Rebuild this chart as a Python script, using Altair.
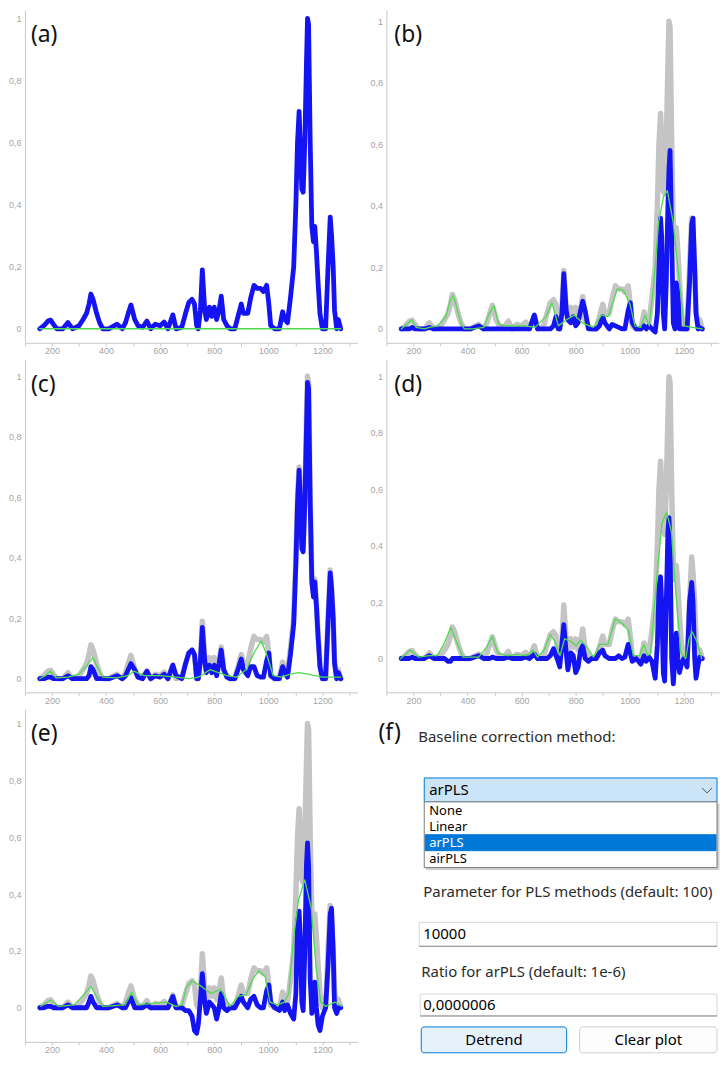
import altair as alt
import pandas as pd

# ---------------- data ----------------
X = [155, 170, 185, 195, 205, 218, 240, 259, 276, 300,
     315, 328, 337, 344, 352, 365, 376, 388, 410, 441,
     460, 472, 482, 492, 506, 518, 535, 551, 565, 582,
     600, 615, 629, 647, 659, 680, 694, 706, 718, 727,
     735, 741, 749, 756, 765, 771, 782, 791, 800, 809,
     818, 826, 835, 847, 859, 876, 888, 900, 908, 924,
     935, 947, 959, 971, 982, 994, 1002, 1009, 1024, 1041,
     1053, 1061, 1071, 1082, 1094, 1102, 1108, 1114, 1118, 1124,
     1129, 1135, 1141, 1145, 1149, 1155, 1161, 1167, 1172, 1178,
     1184, 1191, 1200, 1212, 1221, 1229, 1234, 1240, 1245, 1253,
     1259, 1268]

RAW = [0.0, 0.01, 0.025, 0.028, 0.015, 0.0, 0.0, 0.02, 0.0, 0.01,
       0.03, 0.05, 0.08, 0.112, 0.095, 0.05, 0.02, 0.0, 0.0, 0.015,
       0.0, 0.02, 0.05, 0.077, 0.03, 0.01, 0.005, 0.025, 0.0, 0.015,
       0.01, 0.022, 0.0, 0.045, 0.0, 0.005, 0.05, 0.085, 0.095, 0.08,
       0.01, 0.0, 0.06, 0.19, 0.06, 0.03, 0.07, 0.04, 0.07, 0.03,
       0.06, 0.105, 0.03, 0.01, 0.0, 0.0, 0.04, 0.08, 0.05, 0.05,
       0.1, 0.14, 0.13, 0.13, 0.12, 0.14, 0.08, 0.01, 0.0, 0.0,
       0.055, 0.03, 0.02, 0.1, 0.2, 0.4, 0.6, 0.7, 0.6, 0.45,
       0.44, 0.6, 0.85, 1.0, 0.98, 0.6, 0.33, 0.28, 0.33, 0.25,
       0.15, 0.05, 0.0, 0.0, 0.2, 0.36, 0.3, 0.2, 0.06, 0.0,
       0.03, 0.0]

CORR_B = [0.0, 0.0, 0.0, 0.005, 0.0, 0.0, 0.0, 0.005, 0.0, 0.0,
          0.0, 0.0, 0.0, 0.0, 0.0, 0.0, 0.0, 0.0, 0.0, 0.01,
          0.0, 0.0, 0.0, 0.0, 0.0, 0.0, 0.0, 0.0, 0.0, 0.0,
          0.0, 0.0, 0.0, 0.045, 0.0, 0.0, 0.0, 0.0, 0.01, 0.04,
          0.0, 0.0, 0.05, 0.18, 0.06, 0.03, 0.02, 0.04, 0.01, 0.02,
          0.06, 0.09, 0.06, 0.0, 0.0, 0.0, 0.01, 0.04, 0.02, 0.0,
          0.015, 0.01, 0.005, 0.0, 0.0, 0.06, 0.085, 0.02, 0.0, 0.0,
          0.01, 0.0, 0.01, 0.0, -0.01, 0.05, 0.2, 0.36, 0.3, 0.05,
          0.0, 0.15, 0.4, 0.52, 0.58, 0.3, 0.02, 0.0, 0.15, 0.12,
          0.0, 0.0, 0.0, 0.0, 0.15, 0.34, 0.36, 0.2, 0.05, 0.0,
          0.005, 0.0]

CORR_C = [0.0, 0.0, 0.005, 0.005, 0.0, 0.0, 0.0, 0.01, 0.0, 0.0,
          0.0, 0.0, 0.01, 0.04, 0.03, 0.0, 0.0, 0.0, 0.0, 0.01,
          0.0, 0.01, 0.03, 0.05, 0.03, 0.005, 0.0, 0.025, 0.0, 0.01,
          0.005, 0.015, 0.0, 0.045, 0.01, 0.0, 0.05, 0.085, 0.095, 0.08,
          0.0, 0.0, 0.06, 0.17, 0.06, 0.02, 0.045, 0.02, 0.045, 0.01,
          0.05, 0.095, 0.03, 0.005, 0.0, 0.0, 0.03, 0.065, 0.03, 0.01,
          0.04, 0.04, 0.01, 0.005, 0.005, 0.06, 0.085, 0.01, 0.0, 0.0,
          0.04, 0.02, 0.005, 0.08, 0.18, 0.38, 0.58, 0.69, 0.6, 0.43,
          0.42, 0.58, 0.82, 0.98, 0.96, 0.58, 0.32, 0.27, 0.32, 0.24,
          0.14, 0.04, 0.0, 0.0, 0.19, 0.35, 0.3, 0.2, 0.05, 0.0,
          0.02, 0.0]

CORR_D = [0.0, 0.0, 0.0, 0.005, 0.0, 0.0, 0.0, 0.01, 0.0, 0.0,
          0.0, -0.01, -0.01, 0.0, 0.0, 0.0, 0.0, 0.0, 0.0, 0.01,
          0.0, 0.0, 0.0, 0.005, 0.0, 0.0, 0.0, 0.005, 0.0, 0.0,
          0.0, 0.005, 0.0, 0.015, 0.0, 0.0, 0.0, 0.01, 0.035, 0.01,
          -0.01, -0.03, 0.05, 0.12, 0.02, -0.04, 0.02, 0.01, -0.05, -0.03,
          0.03, 0.045, 0.0, -0.01, 0.0, 0.0, 0.02, 0.03, 0.01, 0.0,
          0.0, 0.0, 0.01, 0.0, 0.005, 0.05, 0.02, -0.01, 0.0, -0.02,
          0.01, -0.01, 0.005, -0.01, -0.07, 0.05, 0.25, 0.29, 0.2, -0.05,
          -0.08, 0.2, 0.45, 0.5, 0.4, 0.0, -0.09, 0.0, 0.09, 0.0,
          -0.05, -0.02, 0.0, -0.03, 0.2, 0.27, 0.2, 0.0, -0.07, -0.02,
          0.005, 0.0]

CORR_E = [0.0, 0.0, 0.005, 0.005, 0.0, 0.0, 0.0, 0.01, 0.0, 0.0,
          0.0, 0.0, 0.02, 0.04, 0.02, 0.0, 0.0, 0.0, 0.0, 0.01,
          0.0, 0.0, 0.02, 0.035, 0.0, 0.0, 0.0, 0.01, 0.0, 0.0,
          0.0, 0.0, 0.0, 0.04, 0.0, 0.0, -0.01, -0.01, -0.03, -0.08,
          -0.09, -0.06, 0.03, 0.12, 0.02, -0.02, 0.02, 0.01, 0.0, -0.04,
          0.0, 0.05, 0.0, -0.01, 0.0, 0.0, 0.02, 0.04, 0.02, 0.0,
          0.03, 0.04, 0.01, 0.0, 0.0, 0.06, 0.08, 0.02, 0.0, -0.01,
          0.02, -0.01, 0.01, -0.02, -0.04, 0.05, 0.3, 0.34, 0.25, 0.02,
          -0.01, 0.2, 0.5, 0.58, 0.5, 0.1, -0.02, 0.0, 0.09, 0.0,
          -0.06, -0.08, -0.03, 0.0, 0.15, 0.33, 0.35, 0.2, 0.0, -0.02,
          0.0, 0.0]

GA_X = [155, 1268]
GA_Y = [0.0, 0.0]

GB_X = [155, 175, 194, 210, 240, 259, 290, 320, 335, 347,
        360, 375, 388, 420, 460, 480, 498, 515, 540, 580,
        615, 650, 690, 712, 736, 766, 795, 825, 865, 895,
        920, 954, 977, 1001, 1019, 1040, 1056, 1072, 1089, 1107,
        1125, 1139, 1160, 1178, 1201, 1230, 1268]
GB_Y = [0.0, 0.015, 0.03, 0.005, 0.0, 0.005, 0.01, 0.04, 0.09, 0.11,
        0.07, 0.02, 0.0, 0.0, 0.005, 0.05, 0.075, 0.015, 0.01, 0.01,
        0.01, 0.005, 0.04, 0.085, 0.01, 0.03, 0.045, 0.02, 0.005, 0.045,
        0.04, 0.13, 0.125, 0.08, 0.01, 0.005, 0.045, 0.01, 0.15, 0.35,
        0.43, 0.45, 0.35, 0.2, 0.01, 0.005, 0.0]

GC_X = [155, 175, 194, 215, 260, 300, 330, 351, 370, 388,
        440, 480, 503, 541, 600, 659, 706, 741, 785, 847,
        882, 918, 950, 974, 994, 1018, 1047, 1082, 1112, 1147,
        1200, 1268]
GC_Y = [0.0, 0.01, 0.025, 0.003, 0.005, 0.015, 0.045, 0.07, 0.035, 0.005,
        0.003, 0.01, 0.025, 0.01, 0.01, 0.005, 0.0, 0.005, 0.03, 0.01,
        0.005, 0.03, 0.09, 0.125, 0.08, 0.01, 0.005, 0.015, 0.02, 0.015,
        0.005, 0.005]

GD_X = [153, 188, 218, 259, 288, 312, 338, 359, 383, 441,
        471, 491, 512, 547, 583, 618, 642, 659, 683, 706,
        724, 742, 759, 783, 801, 818, 842, 866, 889, 919,
        946, 972, 995, 1013, 1036, 1052, 1066, 1077, 1101, 1119,
        1136, 1154, 1169, 1189, 1207, 1219, 1231, 1248, 1266]
GD_Y = [0.0, 0.03, 0.005, 0.01, 0.01, 0.05, 0.11, 0.06, 0.005, 0.005,
        0.04, 0.078, 0.02, 0.01, 0.015, 0.01, 0.03, 0.005, 0.03, 0.085,
        0.06, 0.01, 0.07, 0.06, 0.045, 0.065, 0.04, 0.005, 0.05, 0.05,
        0.14, 0.125, 0.1, 0.01, 0.01, 0.05, 0.01, 0.02, 0.3, 0.48,
        0.52, 0.45, 0.25, 0.02, 0.0, 0.07, 0.095, 0.06, 0.0]

GE_X = [159, 194, 224, 282, 312, 344, 371, 388, 471, 494,
        518, 576, 624, 659, 682, 696, 718, 753, 788, 824,
        859, 888, 918, 941, 965, 988, 1006, 1035, 1059, 1076,
        1094, 1112, 1135, 1159, 1176, 1194, 1212, 1247, 1271]
GE_Y = [0.005, 0.027, 0.005, 0.01, 0.04, 0.075, 0.03, 0.005, 0.01, 0.055,
        0.01, 0.015, 0.02, 0.005, 0.01, 0.07, 0.095, 0.075, 0.05, 0.065,
        0.005, 0.04, 0.045, 0.1, 0.13, 0.11, 0.02, 0.01, 0.02, 0.05,
        0.25, 0.38, 0.45, 0.35, 0.15, 0.02, 0.005, 0.02, 0.005]

X_TICKS = list(range(100, 1400, 100))
Y_TICKS = [0, 0.2, 0.4, 0.6, 0.8, 1]
PANEL_TAGS = ["(a)", "(b)", "(c)", "(d)", "(e)", "(f)"]
METHODS = ["None", "Linear", "arPLS", "airPLS"]
SELECTED = "arPLS"
UI_TEXT = {
    "title": "Baseline correction method:",
    "param": "Parameter for PLS methods (default: 100)",
    "param_val": "10000",
    "ratio": "Ratio for arPLS (default: 1e-6)",
    "ratio_val": "0,0000006",
    "btn1": "Detrend",
    "btn2": "Clear plot",
}

# ---------------- styling ----------------
W, H = 334, 334
XDOM = [100, 1330]
BLUE = "#1414f2"
GREY = "#c4c4c4"
GREEN = "#4ddc4d"
AXC = "#c8c8c8"
LABC = "#a4a4a4"
TXT = "#2a2a2a"
UIFONT = "Noto Sans"


def xenc():
    return alt.X("x:Q", scale=alt.Scale(domain=XDOM, nice=False, zero=False),
                 axis=alt.Axis(values=X_TICKS, format="d",
                               labelExpr="datum.value % 200 == 0 && datum.value <= 1200 ? datum.label : ''",
                               tickSize=3, tickColor=AXC, domainColor=AXC,
                               labelColor=LABC, labelFont="Liberation Sans",
                               labelFontSize=9, labelPadding=1, labelFlush=False,
                               grid=False, title=None, minExtent=13, maxExtent=13))


def yenc(dom):
    return alt.Y("y:Q", scale=alt.Scale(domain=dom, nice=False, zero=False),
                 axis=alt.Axis(values=Y_TICKS,
                               labelExpr="replace(format(datum.value, '.1~f'), '.', ',')",
                               ticks=False, domainColor=AXC, labelColor=LABC,
                               labelFont="Liberation Sans", labelFontSize=9,
                               labelPadding=4, grid=False, title=None,
                               minExtent=14, maxExtent=14))


def line(xs, ys, color, sw, dom):
    df = pd.DataFrame({"x": xs, "y": ys})
    return alt.Chart(df).mark_line(color=color, strokeWidth=sw, strokeJoin="round",
                                   strokeCap="round").encode(x=xenc(), y=yenc(dom))


def tag(t, dx):
    return alt.Chart(pd.DataFrame({"t": [t]})).mark_text(
        align="left", baseline="middle", fontSize=23, font=UIFONT, color="#111"
    ).encode(text="t:N", x=alt.value(dx), y=alt.value(25))


def panel(t, dx, dom, raw, corr, gx, gy, gw=1.3):
    layers = []
    if raw is not None:
        layers.append(line(X, raw, GREY, 5.5, dom))
    layers.append(line(X, corr, BLUE, 4.8, dom))
    layers.append(line(gx, gy, GREEN, gw, dom))
    layers.append(tag(t, dx))
    return alt.layer(*layers).properties(width=W, height=H)


pa = panel(PANEL_TAGS[0], 6, [-0.045, 1.026], None, RAW, GA_X, GA_Y, gw=1.6)
pb = panel(PANEL_TAGS[1], 8, [-0.045, 1.036], RAW, CORR_B, GB_X, GB_Y)
pc = panel(PANEL_TAGS[2], 6, [-0.045, 1.055], RAW, CORR_C, GC_X, GC_Y)
pd_ = panel(PANEL_TAGS[3], 8, [-0.12, 1.06], RAW, CORR_D, GD_X, GD_Y)
pe = panel(PANEL_TAGS[4], 6, [-0.12, 1.05], RAW, CORR_E, GE_X, GE_Y)

# ---------------- panel (f): the control widgets ----------------
one = pd.DataFrame({"k": [0]})


def box(x1, x2, y1, y2, fill, stroke, r=0, op=1.0):
    return alt.Chart(one).mark_rect(fill=fill, stroke=stroke, strokeWidth=1,
                                    cornerRadius=r, opacity=op).encode(
        x=alt.value(x1), x2=alt.value(x2), y=alt.value(y1), y2=alt.value(y2))


def seg(x1, y1, x2, y2, color, sw=1):
    return alt.Chart(one).mark_rule(color=color, strokeWidth=sw).encode(
        x=alt.value(x1), y=alt.value(y1), x2=alt.value(x2), y2=alt.value(y2))


def txt(s, x, y, size=15, color=TXT, align="left"):
    return alt.Chart(one).mark_text(text=s, align=align, baseline="middle",
                                    fontSize=size, font=UIFONT, color=color).encode(
        x=alt.value(x), y=alt.value(y))


f_layers = [
    txt(PANEL_TAGS[5], -8, 24, size=23, color="#111"),
    txt(UI_TEXT["title"], 32, 28),
    # combo box
    box(38, 332, 69, 93, "#cce4f7", "#0078d7"),
    txt(SELECTED, 43, 81, color="#000"),
    seg(317, 79, 322, 84, "#555"),
    seg(322, 84, 327, 79, "#555"),
    # drop-down list
    box(40, 334, 95, 161, "#b0b0b0", "#b0b0b0", op=0.6),
    box(38, 332, 93, 159, "#ffffff", "#7a7a7a"),
    box(39, 331, 126, 142, "#0078d7", "#0078d7"),
]
for i, m in enumerate(METHODS):
    f_layers.append(txt(m, 43, [102, 118, 134, 150][i], size=13,
                        color="#ffffff" if m == SELECTED else "#000"))
f_layers += [
    txt(UI_TEXT["param"], 37, 184),
    box(33, 332, 214, 238, "#ffffff", "#d8d8d8"),
    seg(33, 238, 332, 238, "#8a8a8a"),
    txt(UI_TEXT["param_val"], 37, 226, color="#000"),
    txt(UI_TEXT["ratio"], 35, 264),
    box(34, 332, 286, 308, "#ffffff", "#d8d8d8"),
    seg(34, 308, 332, 308, "#8a8a8a"),
    txt(UI_TEXT["ratio_val"], 37, 297, color="#000"),
    box(35, 181, 319, 345, "#e5f1fb", "#0078d7", r=3),
    txt(UI_TEXT["btn1"], 108, 332, color="#000", align="center"),
    box(194, 332, 319, 345, "#fdfdfd", "#cfcfcf", r=3),
    txt(UI_TEXT["btn2"], 263, 332, color="#000", align="center"),
]
pf = alt.layer(*f_layers).properties(width=W, height=H)

chart = alt.concat(pa, pb, pc, pd_, pe, pf, columns=2,
                   spacing={"row": 4, "column": 12}).properties(
    padding=0).configure_view(strokeWidth=0)

chart.save("out.html", embed_options={"renderer": "svg", "actions": False})
